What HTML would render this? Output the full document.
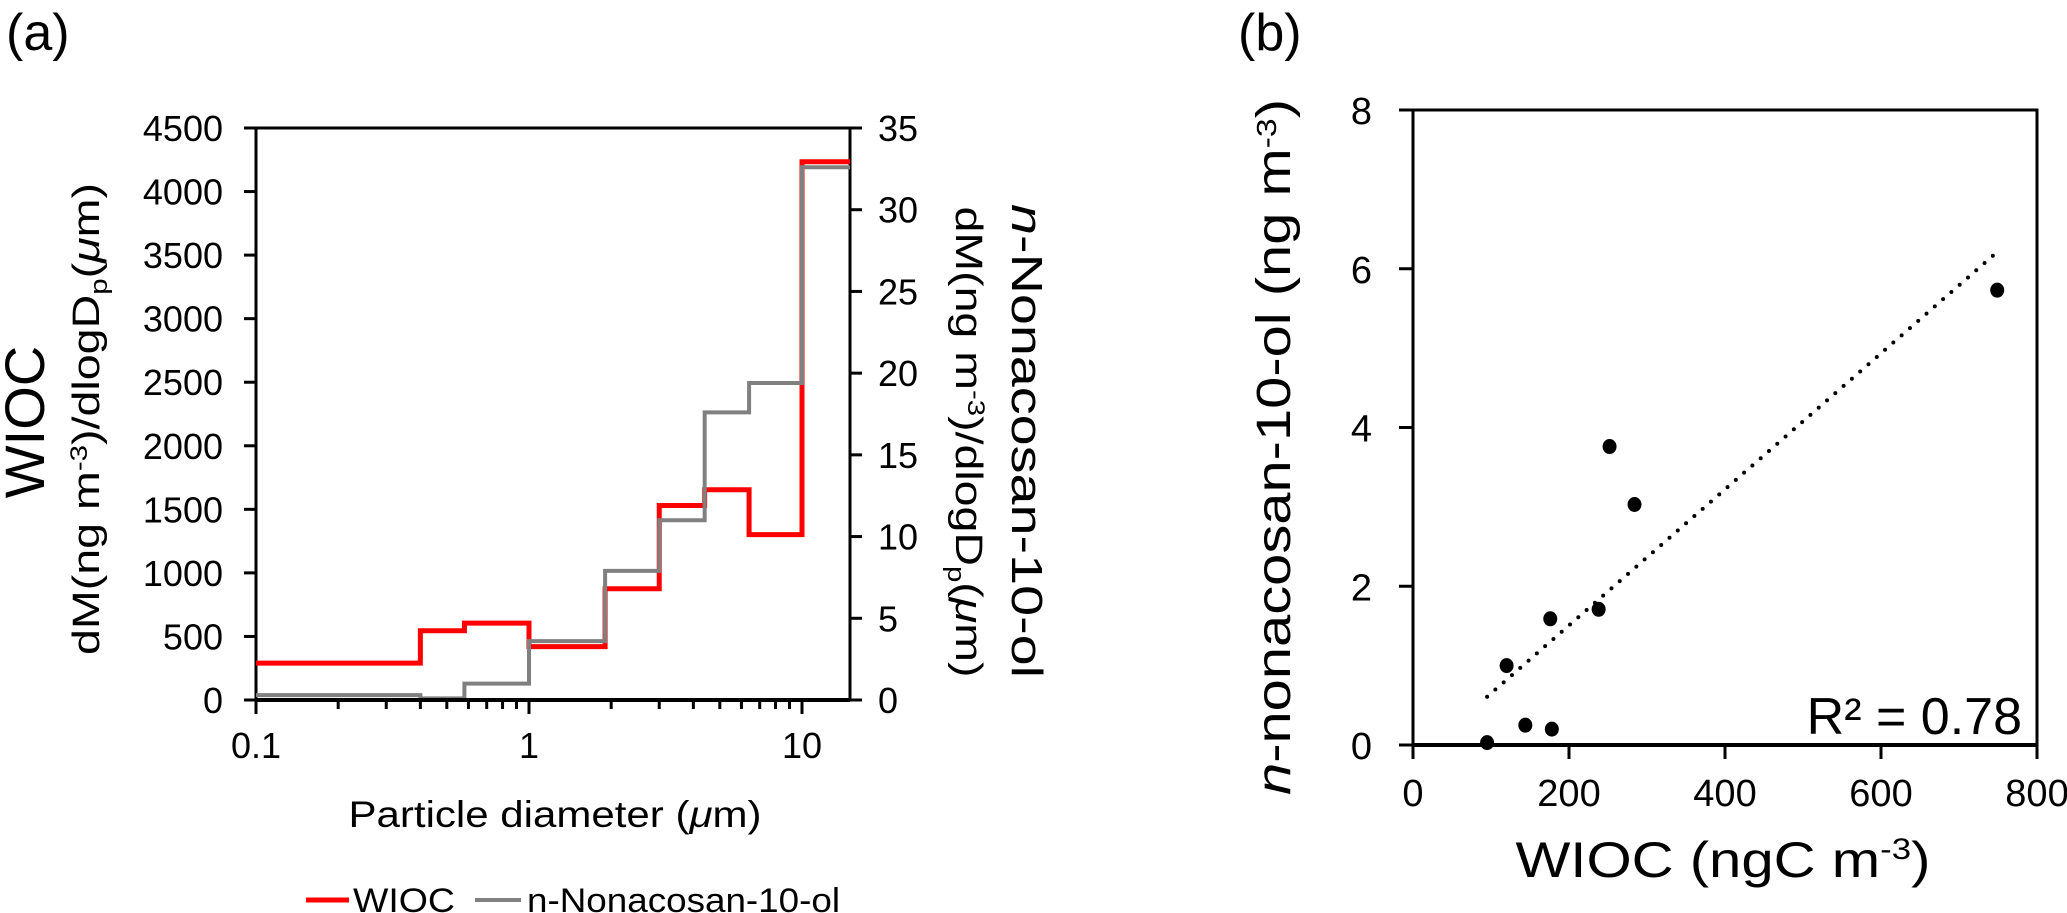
<!DOCTYPE html>
<html><head><meta charset="utf-8"><style>
html,body{margin:0;padding:0;background:#fff;}
svg{display:block;font-family:"Liberation Sans",Arial,sans-serif;}
</style></head><body>
<svg id="fig" width="2067" height="913" viewBox="0 0 2067 913" xmlns="http://www.w3.org/2000/svg">
<text x="6" y="50" font-size="52">(a)</text>
<text x="1238" y="50" font-size="52">(b)</text>
<g id="pa"></g>
<g id="pb"></g>
</svg>
<script>
// ---- Panel (a) data ----
const binEdges = [0.1, 0.4, 0.58, 1.0, 1.9, 3.0, 4.4, 6.4, 10, 15];
const wiocValues = [290, 545, 605, 420, 875, 1530, 1654, 1301, 4234];
const nonaValues = [0.3, 0.1, 1.0, 3.6, 7.9, 11.0, 17.6, 19.4, 32.6];
const leftTicks = [0, 500, 1000, 1500, 2000, 2500, 3000, 3500, 4000, 4500];
const rightTicks = [0, 5, 10, 15, 20, 25, 30, 35];
const xTickLabels = ["0.1", "1", "10"];
// ---- Panel (b) data ----
const wiocX = [95, 144, 178, 120, 176, 238, 252, 284, 749];
const nonaY = [0.03, 0.25, 0.2, 1.0, 1.59, 1.71, 3.76, 3.03, 5.73];
const bxTicks = [0, 200, 400, 600, 800];
const byTicks = [0, 2, 4, 6, 8];

const NS = "http://www.w3.org/2000/svg";
function mk(parent, tag, attrs, text){
  const e = document.createElementNS(NS, tag);
  for (const k in attrs) e.setAttribute(k, attrs[k]);
  if (text !== undefined) e.textContent = text;
  parent.appendChild(e); return e;
}
const pa = document.getElementById('pa');
const pb = document.getElementById('pb');

const aL = 256, aR = 850, aT = 128, aB = 700;
const decade = 273;
const ax = v => aL + Math.log10(v / 0.1) * decade;
const ayL = v => aB - v / 4500 * (aB - aT);
const ayR = v => aB - v / 35 * (aB - aT);

let e;
e = mk(pa, 'line', {x1:aL, y1:aT, x2:aR, y2:aT, stroke:'#000', 'stroke-width':3});
 
e = mk(pa, 'line', {x1:aL, y1:aT, x2:aL, y2:aB, stroke:'#000', 'stroke-width':3});
 
e = mk(pa, 'line', {x1:aR, y1:aT, x2:aR, y2:aB, stroke:'#000', 'stroke-width':3});
 

leftTicks.forEach(t => {
  const y = ayL(t);
  e = mk(pa, 'line', {x1:aL-12, y1:y, x2:aL, y2:y, stroke:'#000', 'stroke-width':3});
   
  e = mk(pa, 'text', {x:223, y:y+13, 'font-size':36, 'text-anchor':'end'}, String(t));
   
});
rightTicks.forEach(t => {
  const y = ayR(t);
  e = mk(pa, 'line', {x1:aR, y1:y, x2:aR+12, y2:y, stroke:'#000', 'stroke-width':3});
   
  e = mk(pa, 'text', {x:878, y:y+13, 'font-size':36}, String(t));
   
});
for (let d = 0; d < 3; d++) {
  for (let m = 1; m <= 9; m++) {
    const v = 0.1 * Math.pow(10, d) * m;
    if (v > 15) continue;
    const x = ax(v);
    e = mk(pa, 'line', {x1:x, y1:aB, x2:x, y2:aB + (m === 1 ? 14 : 9), stroke:'#000', 'stroke-width':3});
     
  }
}
xTickLabels.forEach(l => {
  e = mk(pa, 'text', {x:ax(parseFloat(l)), y:758, 'font-size':36, 'text-anchor':'middle'}, l);
   
});

function stepPath(vals, yf){
  let d = '';
  vals.forEach((v, i) => {
    const x0 = ax(binEdges[i]), x1 = ax(binEdges[i+1]), y = yf(v);
    d += (i === 0 ? 'M' : 'L') + x0 + ' ' + y + ' L' + x1 + ' ' + y + ' ';
  });
  return d;
}
e = mk(pa, 'path', {d:stepPath(wiocValues, ayL), fill:'none', stroke:'#ff0000', 'stroke-width':5});
 
e = mk(pa, 'path', {d:stepPath(nonaValues, ayR), fill:'none', stroke:'#808080', 'stroke-width':4});
 
e = mk(pa, 'line', {x1:aL, y1:aB, x2:aR, y2:aB, stroke:'#000', 'stroke-width':4});
 

e = mk(pa, 'text', {x:0, y:0, 'font-size':56, 'text-anchor':'middle', transform:'translate(44,422) rotate(-90)'}, 'WIOC');
 
e = mk(pa, 'text', {x:0, y:0, 'font-size':38, 'text-anchor':'middle', textLength:472, lengthAdjust:'spacingAndGlyphs', transform:'translate(99,419) rotate(-90)'});
 
e.innerHTML = 'dM(ng m<tspan dy="-12" font-size="24">-3</tspan><tspan dy="12">)/dlogD</tspan><tspan dy="8" font-size="24">p</tspan><tspan dy="-8">(</tspan><tspan font-style="italic">μ</tspan>m)';
e = mk(pa, 'text', {x:0, y:0, 'font-size':44, 'text-anchor':'middle', textLength:474, lengthAdjust:'spacingAndGlyphs', transform:'translate(1012,441) rotate(90)'});
 
e.innerHTML = '<tspan font-style="italic">n</tspan>-Nonacosan-10-ol';
e = mk(pa, 'text', {x:0, y:0, 'font-size':38, 'text-anchor':'middle', textLength:471, lengthAdjust:'spacingAndGlyphs', transform:'translate(956,442) rotate(90)'});
 
e.innerHTML = 'dM(ng m<tspan dy="-12" font-size="24">-3</tspan><tspan dy="12">)/dlogD</tspan><tspan dy="8" font-size="24">p</tspan><tspan dy="-8">(</tspan><tspan font-style="italic">μ</tspan>m)';
e = mk(pa, 'text', {x:555, y:827, 'font-size':37, 'text-anchor':'middle', textLength:413, lengthAdjust:'spacingAndGlyphs'});
 
e.innerHTML = 'Particle diameter (<tspan font-style="italic">μ</tspan>m)';

e = mk(pa, 'line', {x1:306, y1:900, x2:349, y2:900, stroke:'#ff0000', 'stroke-width':5});
 
e = mk(pa, 'text', {x:353, y:912, 'font-size':34, textLength:102, lengthAdjust:'spacingAndGlyphs'}, 'WIOC');
 
e = mk(pa, 'line', {x1:475, y1:900, x2:521, y2:900, stroke:'#808080', 'stroke-width':4});
 
e = mk(pa, 'text', {x:527, y:912, 'font-size':34, textLength:313, lengthAdjust:'spacingAndGlyphs'}, 'n-Nonacosan-10-ol');
 

const bL = 1413, bR = 2037, bT = 110, bB = 745;
const bx = v => bL + v / 800 * (bR - bL);
const by = v => bB - v / 8 * (bB - bT);
e = mk(pb, 'rect', {x:bL, y:bT, width:bR-bL, height:bB-bT, fill:'none', stroke:'#000', 'stroke-width':3});
 
bxTicks.forEach(t => {
  const x = bx(t);
  e = mk(pb, 'line', {x1:x, y1:bB, x2:x, y2:bB+14, stroke:'#000', 'stroke-width':3});
   
  e = mk(pb, 'text', {x:x, y:806, 'font-size':38, 'text-anchor':'middle'}, String(t));
   
});
byTicks.forEach(t => {
  const y = by(t);
  e = mk(pb, 'line', {x1:bL-14, y1:y, x2:bL, y2:y, stroke:'#000', 'stroke-width':3});
   
  e = mk(pb, 'text', {x:1372, y:y+14, 'font-size':38, 'text-anchor':'end'}, String(t));
   
});
e = mk(pb, 'line', {x1:bL, y1:bB, x2:bR, y2:bB, stroke:'#000', 'stroke-width':4});
 
const n = wiocX.length;
const mx = wiocX.reduce((a,b)=>a+b,0)/n, my = nonaY.reduce((a,b)=>a+b,0)/n;
let sxy = 0, sxx = 0;
for (let i = 0; i < n; i++) { sxy += (wiocX[i]-mx)*(nonaY[i]-my); sxx += (wiocX[i]-mx)**2; }
const slope = sxy / sxx, icpt = my - slope * mx;
const xmin = Math.min(...wiocX), xmax = Math.max(...wiocX);
e = mk(pb, 'line', {x1:bx(xmin), y1:by(icpt+slope*xmin), x2:bx(xmax), y2:by(icpt+slope*xmax), stroke:'#000', 'stroke-width':4, 'stroke-dasharray':'0 11', 'stroke-linecap':'round'});
 
wiocX.forEach((v, i) => {
  e = mk(pb, 'ellipse', {cx:bx(v), cy:by(nonaY[i]), rx:7, ry:7.5, fill:'#000'});
   
});
e = mk(pb, 'text', {x:2022, y:734, 'font-size':52, 'text-anchor':'end'}, 'R² = 0.78');
 
e = mk(pb, 'text', {x:0, y:0, 'font-size':48, 'text-anchor':'middle', textLength:696, lengthAdjust:'spacingAndGlyphs', transform:'translate(1290,447) rotate(-90)'});
 
e.innerHTML = '<tspan font-style="italic">n</tspan>-nonacosan-10-ol (ng m<tspan dy="-14" font-size="28">-3</tspan><tspan dy="14">)</tspan>';
e = mk(pb, 'text', {x:1723, y:877, 'font-size':50, 'text-anchor':'middle', textLength:415, lengthAdjust:'spacingAndGlyphs'});
 
e.innerHTML = 'WIOC (ngC m<tspan dy="-18" font-size="30">-3</tspan><tspan dy="18">)</tspan>';
</script>
</body></html>
